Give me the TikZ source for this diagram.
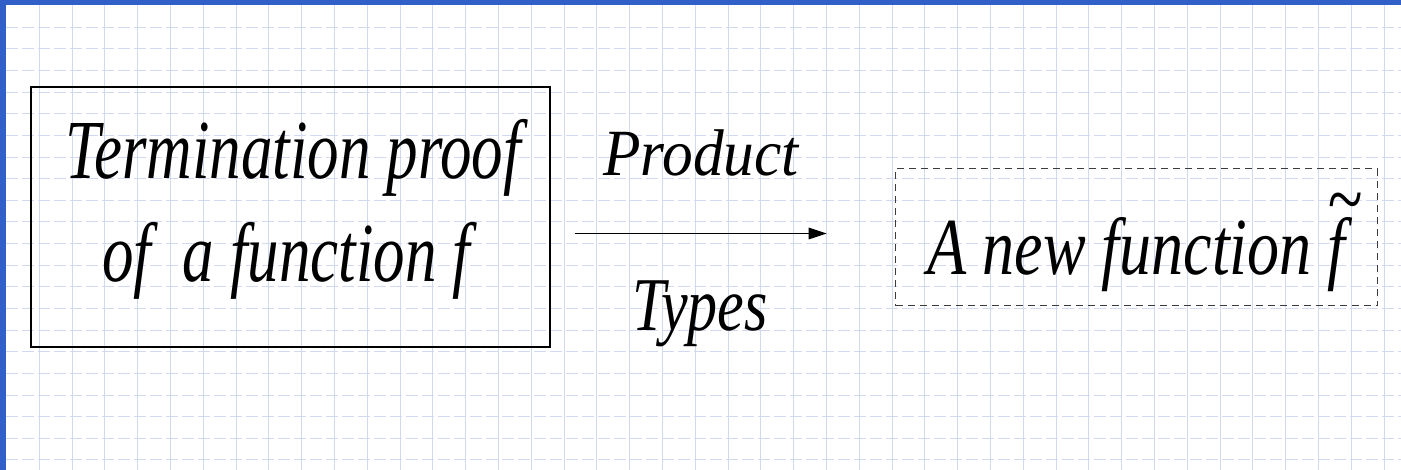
\documentclass[tikz,border=0pt]{standalone}
\usepackage{fontspec}
\usepackage{graphicx}
\setmainfont{Liberation Serif}
\usetikzlibrary{arrows.meta}
\definecolor{gridc}{RGB}{208,217,240}
\definecolor{frameblue}{RGB}{48,96,200}
\definecolor{dashgray}{RGB}{60,60,60}
\newcommand{\tx}[3]{\scalebox{#1}[#2]{\fontsize{40pt}{40pt}\selectfont\itshape #3}}
\begin{document}
\begin{tikzpicture}[x=1pt,y=-1pt,
  gridv/.style={draw=gridc,line width=1pt},
  gridh/.style={draw=gridc,line width=1pt,dash pattern=on 12pt off 4pt},
  lbl/.style={inner sep=0pt,anchor=base},
  solidbox/.style={draw=black,line width=1.3pt,minimum width=519pt,minimum height=260pt,inner sep=0pt},
  dashbox/.style={draw=dashgray,line width=1pt,dash pattern=on 7pt off 5pt,minimum width=482pt,minimum height=136.7pt,inner sep=0pt},
  conn/.style={draw=black,line width=1.3pt,-{Triangle[length=18pt,width=11.5pt]}}
]
\useasboundingbox (0,0) rectangle (1401,470);
\fill[white] (0,0) rectangle (1401,470);
\foreach \k in {0,...,41} \draw[gridv] ({39.3+32.8*\k},5) -- ({39.3+32.8*\k},470);
\foreach \k in {0,...,20} \draw[gridh] (6,{27.3+21.63*\k}) -- (1401,{27.3+21.63*\k});
\fill[frameblue] (0,0) rectangle (1401,5);
\fill[frameblue] (0,0) rectangle (6,470);
\node[solidbox] (termbox) at (290.5,217) {};
\node[lbl] (term1) at (293,179) {\tx{1.575}{2.1}{Termination proof}};
\node[lbl] (term2) at (286,282) {\tx{1.575}{2.1}{of\ \ a function f}};
\node[lbl] (prod) at (701,176) {\tx{1.535}{1.65}{Product}};
\node[lbl] (types) at (700,331) {\tx{1.5}{1.9}{Types}};
\coordinate (arrS) at (574.7,233.5);
\coordinate (arrE) at (826.7,233.5);
\draw[conn] (arrS) -- (arrE);
\node[dashbox] (newbox) at (1136.7,237.35) {};
\node[lbl] (newfun) at (1136.5,275) {\tx{1.6}{2.025}{A new function \rlap{\raisebox{0.6em}{\textasciitilde}}f}};
\end{tikzpicture}
\end{document}
